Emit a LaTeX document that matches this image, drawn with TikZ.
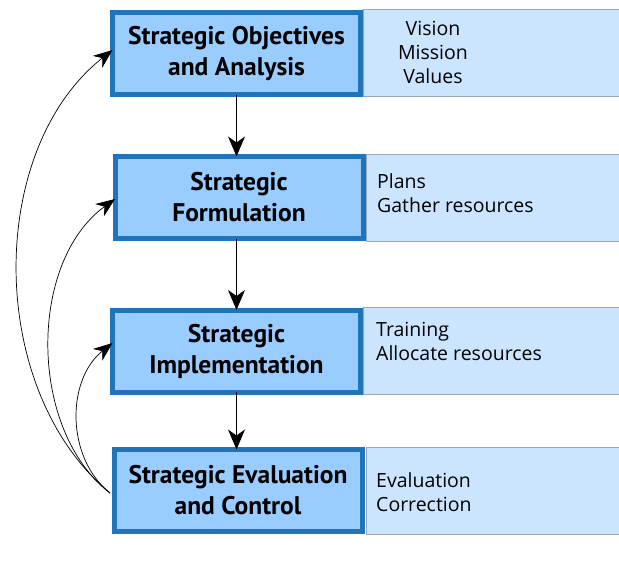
\documentclass[tikz,border=0pt]{standalone}
\usepackage{fontspec}
\setmainfont{Open Sans}
\newfontfamily\titlefont{PT Sans}
\usetikzlibrary{arrows.meta}
\definecolor{darkedge}{HTML}{1F74BA}
\definecolor{darkfill}{HTML}{99CCFF}
\definecolor{lightfill}{HTML}{CCE5FF}
\definecolor{lightedge}{HTML}{9AA6B2}
\tikzset{
  stagebox/.style={draw=darkedge, fill=darkfill, line width=5pt, minimum width=248pt, minimum height=82pt, inner sep=0pt, outer sep=0pt, align=center, font=\titlefont\bfseries\fontsize{25.5pt}{31pt}\selectfont},
  infobox/.style={fill=lightfill, draw=lightedge, line width=0.6pt, minimum height=87pt, inner sep=0pt, outer sep=0pt},
  infotext/.style={align=left, anchor=west, inner sep=0pt, font=\fontsize{19.5pt}{24pt}\selectfont},
  arr/.style={-{Stealth[length=20pt,width=17pt,inset=6pt]}, line width=1pt},
  curvearr/.style={-{Stealth[length=19pt,width=15pt,inset=6pt]}, line width=0.7pt}
}
\begin{document}
\begin{tikzpicture}[x=1pt,y=-1pt]
\useasboundingbox (0,0) rectangle (619,571);
% info columns
\node[infobox, minimum width=266pt] (i1) at (496,53) {};
\node[infobox, minimum width=263pt] (i2) at (497.5,197.5) {};
\node[infobox, minimum width=266pt] (i3) at (496,351) {};
\node[infobox, minimum width=263pt] (i4) at (497.5,490.5) {};
% stage boxes
\node[stagebox] (b1) at (236.5,53.5) {Strategic Objectives\\and Analysis};
\node[stagebox] (b2) at (239,197.5) {Strategic\\Formulation};
\node[stagebox] (b3) at (236.5,351) {Strategic\\Implementation};
\node[stagebox] (b4) at (238,490.5) {Strategic Evaluation\\and Control};
% info text
\node[infotext, align=center, anchor=center] (t1) at (433,52) {Vision\\Mission\\Values};
\node[infotext] (t2) at (377,193) {Plans\\Gather resources};
\node[infotext] (t3) at (376,341) {Training\\Allocate resources};
\node[infotext] (t4) at (376,492) {Evaluation\\Correction};
% vertical arrows
\draw[arr] (b1.south) -- (b1.south |- b2.north);
\draw[arr] (b2.south -| b1.south) -- (b1.south |- b3.north);
\draw[arr] (b3.south) -- (b3.south |- b4.north);
% feedback curves
\coordinate (s) at (110,493);
\draw[curvearr] (s) .. controls (-14,390) and (-14,150) .. (b1.west |- 0,50);
\draw[curvearr] (s) .. controls (28,430) and (28,262) .. (b2.west |- 0,199);
\draw[curvearr] (s) .. controls (66,458) and (66,380) .. (b3.west |- 0,343);
\end{tikzpicture}
\end{document}
